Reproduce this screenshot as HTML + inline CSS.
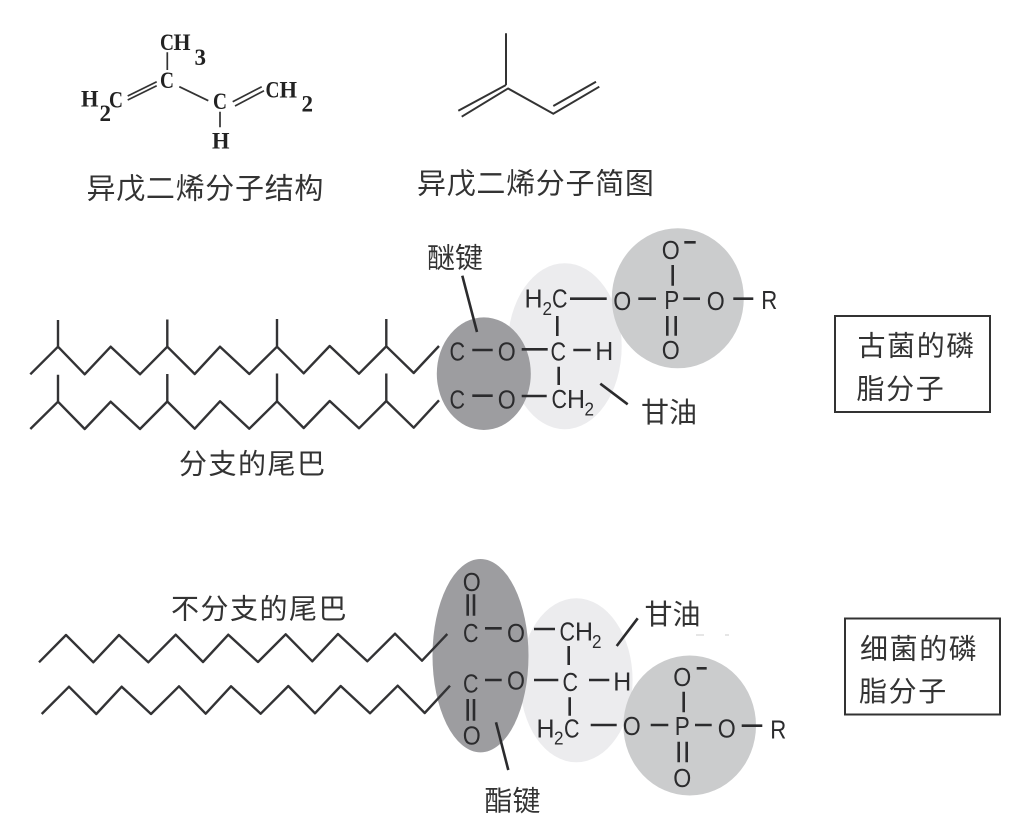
<!DOCTYPE html>
<html lang="zh"><head><meta charset="utf-8"><style>
html,body{margin:0;padding:0;background:#fff}
svg{display:block}
.l{stroke:#2b2b2d;stroke-width:2.6;fill:none;stroke-linejoin:miter;stroke-linecap:butt}
.z{stroke:#333335;stroke-width:2.4;fill:none;stroke-linejoin:round}
.a{font-family:"Liberation Sans",sans-serif;font-size:26px;fill:#2b2b2d;text-anchor:middle}
.s{font-family:"Liberation Sans",sans-serif;font-size:26px;fill:#2b2b2d}
.u{font-family:"Liberation Sans",sans-serif;font-size:18px;fill:#2b2b2d}
.c{font-family:"Liberation Sans","Noto Sans CJK SC",sans-serif;font-size:28px;fill:#333}
.b{font-family:"Liberation Serif",serif;font-weight:bold;font-size:23px;fill:#222}
.n{stroke:#333;stroke-width:1.7;fill:none}
</style></head><body>
<svg width="1034" height="840" viewBox="0 0 1034 840" xmlns="http://www.w3.org/2000/svg">
<rect width="1034" height="840" fill="#fff"/>

<!-- isoprene structure -->
<text class="b" x="160" y="50" textLength="14" lengthAdjust="spacingAndGlyphs">C</text>
<text class="b" x="173.5" y="50" textLength="17" lengthAdjust="spacingAndGlyphs">H</text>
<text class="b" x="194.5" y="65">3</text>
<text class="b" x="160" y="88" textLength="14" lengthAdjust="spacingAndGlyphs">C</text>
<text class="b" x="81" y="106.5" textLength="17.5" lengthAdjust="spacingAndGlyphs">H</text>
<text class="b" x="99.5" y="121">2</text>
<text class="b" x="109" y="107.5" textLength="14" lengthAdjust="spacingAndGlyphs">C</text>
<text class="b" x="213" y="109" textLength="14" lengthAdjust="spacingAndGlyphs">C</text>
<text class="b" x="212" y="148.3" textLength="17.5" lengthAdjust="spacingAndGlyphs">H</text>
<text class="b" x="265.5" y="97.3" textLength="14" lengthAdjust="spacingAndGlyphs">C</text>
<text class="b" x="279.5" y="97.3" textLength="17.5" lengthAdjust="spacingAndGlyphs">H</text>
<text class="b" x="301.5" y="111.7">2</text>
<path class="n" d="M167.3 52.3V70M127.7 96L156.7 81.7M127.7 100L156.7 85.7M179.3 86.7L208.3 100.7M220 111.7V127.3M232.7 101.7L261.7 86.7M235 106L264 90.7"/>
<text class="c" x="86.5" y="198.5" style="font-size:29px;letter-spacing:.7px">异戊二烯分子结构</text>

<!-- skeletal -->
<path class="n" style="stroke-width:2" d="M506 33.3V85M458.3 110.7L506 85M461.7 116.7L508.3 88.3M507.7 88.3L553.3 113.7L599.3 86.7M553.3 106L596 81.7"/>
<text class="c" x="417" y="193.5" style="font-size:29px;letter-spacing:.7px">异戊二烯分子简图</text>

<!-- top ellipses -->
<ellipse cx="564.7" cy="346.2" rx="57" ry="83" fill="#ececee"/>
<ellipse cx="677.8" cy="298.3" rx="66" ry="70" fill="#cbcccd"/>
<ellipse cx="483.8" cy="373.7" rx="47" ry="56.3" fill="#9d9da0"/>

<!-- top chains -->
<path class="z" d="M30.3 374.3L58 346.7L84.7 374.3L110.7 346.7L140 374.3L167.3 346.7L194.7 374L220 346.7L249.3 374L277 346.7L303.7 373.3L329.7 346L359 373.7L386.3 346.3L413.7 373L439 346M58 320V346.7M167.3 319.5V346.7M277 319V346.7M386.3 319V346.3"/>
<path class="z" d="M30.3 429L58 401.7L84.7 429L110.7 401.7L140 429L167.3 401.5L194.7 428.7L220 401.3L249.3 428.7L277 401.3L303.7 428L329.7 401L359 428.3L386.3 401L413.7 427.7L439 400.3M58 374.7V401.7M167.3 374V401.5M277 373.5V401.3M386.3 373.5V401"/>

<!-- top molecule -->
<path class="l" d="M472.3 350H492.7M521.7 349.3H547.7M573.3 350H590.7M472.3 395.7H492.7M521.7 396H546.7M557.3 316V336M558.7 366.7V385M570 298.7H606.7M638.3 298.7H656M683.3 298.7H700M733.3 298.7H753.3M672.7 265V285.7M667.3 316V335.7M675.7 316V335.7M684.3 242.3H695.7M462.3 275.7L477 332M600.3 383.7L627.7 404.3"/>
<text class="a" x="457.3" y="360.7" textLength="15.5" lengthAdjust="spacingAndGlyphs">C</text>
<text class="a" x="506.7" y="360.7" textLength="18" lengthAdjust="spacingAndGlyphs">O</text>
<text class="a" x="558.3" y="360.7" textLength="15.5" lengthAdjust="spacingAndGlyphs">C</text>
<text class="a" x="604.3" y="359.8" textLength="18" lengthAdjust="spacingAndGlyphs">H</text>
<text class="a" x="457.3" y="408.5" textLength="15.5" lengthAdjust="spacingAndGlyphs">C</text>
<text class="a" x="506.7" y="408.5" textLength="18" lengthAdjust="spacingAndGlyphs">O</text>
<text class="s" x="551.5" y="408" textLength="15.5" lengthAdjust="spacingAndGlyphs">C</text>
<text class="s" x="567" y="408" textLength="18" lengthAdjust="spacingAndGlyphs">H</text>
<text class="u" x="584.5" y="415.5" textLength="9.5" lengthAdjust="spacingAndGlyphs">2</text>
<text class="s" x="524.5" y="307.5" textLength="18" lengthAdjust="spacingAndGlyphs">H</text>
<text class="u" x="542.5" y="315" textLength="9.5" lengthAdjust="spacingAndGlyphs">2</text>
<text class="s" x="552" y="307.5" textLength="15.5" lengthAdjust="spacingAndGlyphs">C</text>
<text class="a" x="622.3" y="310" textLength="18" lengthAdjust="spacingAndGlyphs">O</text>
<text class="a" x="671.7" y="309" textLength="15" lengthAdjust="spacingAndGlyphs">P</text>
<text class="a" x="715.7" y="310" textLength="18" lengthAdjust="spacingAndGlyphs">O</text>
<text class="a" x="769.3" y="309" textLength="16" lengthAdjust="spacingAndGlyphs">R</text>
<text class="a" x="670.7" y="259" textLength="18" lengthAdjust="spacingAndGlyphs">O</text>
<text class="a" x="670.7" y="359" textLength="18" lengthAdjust="spacingAndGlyphs">O</text>
<text class="c" x="427" y="267.5">醚键</text>
<text class="c" x="641" y="422">甘油</text>
<text class="c" x="179" y="473.5" style="letter-spacing:1.5px">分支的尾巴</text>

<!-- top box -->
<rect x="835" y="316" width="155" height="96" fill="none" stroke="#333" stroke-width="2"/>
<text class="c" x="857.5" y="355.5" style="letter-spacing:1.6px">古菌的磷</text>
<text class="c" x="856.5" y="398.5" style="letter-spacing:1.6px">脂分子</text>

<!-- bottom ellipses -->
<ellipse cx="576.3" cy="680.3" rx="56.3" ry="82" fill="#ececee"/>
<ellipse cx="689.7" cy="725.5" rx="66.3" ry="70" fill="#cbcccd"/>
<ellipse cx="480.5" cy="655.7" rx="48" ry="96.7" fill="#9d9da0"/>

<!-- bottom chains -->
<path class="z" d="M39 662.3L66 635L93.3 662.3L119 635L148.3 662.3L175.7 634.7L203 662L228.3 634.7L258 662L285.7 634.3L312.3 661.3L338 634L367.3 661.3L395 633.7L422 660.7L447.3 634"/>
<path class="z" d="M41.7 714L69 686.7L96.3 714L121.7 686.7L151 714L179 686.3L205.7 713.7L231 686.3L260.7 713.7L288.3 686L315 713.3L340.7 686L370 713.3L397.7 685.7L424.7 713L450 685.7"/>

<!-- bottom molecule -->
<path class="l" d="M467.7 594.3V615.7M474 594.3V615.7M485 628.3H501.7M534 629H555M568.7 646V665M485 680H501.7M534 680H558.3M589 680H609.3M569.7 697.3V715.7M467.7 699V720.7M474 699V720.7M590.7 725H616.7M650.7 725H668.3M695 725H711.7M741.7 725.7H762.3M683.7 691.7V712.3M696.7 668.3H706.7M678.7 741.7V762.3M686.7 741.7V762.3M637.7 618.3L616.7 646M496 722.3L508.3 770"/>
<text class="a" x="471.7" y="591" textLength="18" lengthAdjust="spacingAndGlyphs">O</text>
<text class="a" x="470.7" y="642" textLength="15.5" lengthAdjust="spacingAndGlyphs">C</text>
<text class="a" x="516" y="642" textLength="18" lengthAdjust="spacingAndGlyphs">O</text>
<text class="s" x="559.5" y="640.5" textLength="15.5" lengthAdjust="spacingAndGlyphs">C</text>
<text class="s" x="575" y="640.5" textLength="18" lengthAdjust="spacingAndGlyphs">H</text>
<text class="u" x="592" y="648" textLength="9.5" lengthAdjust="spacingAndGlyphs">2</text>
<text class="a" x="470.7" y="692.5" textLength="15.5" lengthAdjust="spacingAndGlyphs">C</text>
<text class="a" x="516" y="689.3" textLength="18" lengthAdjust="spacingAndGlyphs">O</text>
<text class="a" x="570.3" y="691" textLength="15.5" lengthAdjust="spacingAndGlyphs">C</text>
<text class="a" x="622.3" y="690.3" textLength="18" lengthAdjust="spacingAndGlyphs">H</text>
<text class="a" x="471.7" y="744.3" textLength="18" lengthAdjust="spacingAndGlyphs">O</text>
<text class="s" x="536.5" y="737.5" textLength="18" lengthAdjust="spacingAndGlyphs">H</text>
<text class="u" x="554" y="744.5" textLength="9.5" lengthAdjust="spacingAndGlyphs">2</text>
<text class="s" x="564" y="737.5" textLength="15.5" lengthAdjust="spacingAndGlyphs">C</text>
<text class="a" x="631.7" y="735" textLength="18" lengthAdjust="spacingAndGlyphs">O</text>
<text class="a" x="682.3" y="735" textLength="15" lengthAdjust="spacingAndGlyphs">P</text>
<text class="a" x="726.7" y="737.6" textLength="18" lengthAdjust="spacingAndGlyphs">O</text>
<text class="a" x="778.3" y="738.3" textLength="16" lengthAdjust="spacingAndGlyphs">R</text>
<text class="a" x="682.3" y="686" textLength="18" lengthAdjust="spacingAndGlyphs">O</text>
<text class="a" x="682.3" y="787" textLength="18" lengthAdjust="spacingAndGlyphs">O</text>
<text class="c" x="644.5" y="624">甘油</text>
<text class="c" x="484.5" y="810.5">酯键</text>
<text class="c" x="171" y="618.5" style="letter-spacing:1.5px">不分支的尾巴</text>
<path d="M696 635H704M725 635H729" stroke="#ccc" stroke-width="1"/>

<!-- bottom box -->
<rect x="845" y="618.5" width="155" height="96" fill="none" stroke="#333" stroke-width="2"/>
<text class="c" x="860" y="658.5" style="letter-spacing:1.6px">细菌的磷</text>
<text class="c" x="859" y="701" style="letter-spacing:1.6px">脂分子</text>
</svg>
</body></html>
